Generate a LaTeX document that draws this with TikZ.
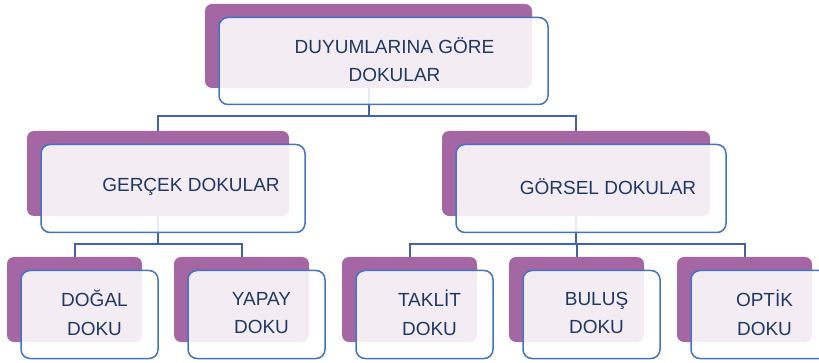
\documentclass[tikz,border=0pt]{standalone}
\usepackage{fontspec}
\setmainfont{Liberation Sans}
\usetikzlibrary{backgrounds}
\definecolor{dokupurple}{HTML}{A467A4}
\definecolor{dokublue}{HTML}{4472C4}
\definecolor{dokuline}{HTML}{3F63A6}
\definecolor{dokutext}{HTML}{203864}
\tikzset{
  back/.style  = {rectangle, rounded corners=7pt, fill=dokupurple, inner sep=0pt},
  front/.style = {rectangle, rounded corners=9pt, draw=dokublue, line width=1.5pt,
                  fill=white, fill opacity=0.88, inner sep=0pt},
  lbl/.style   = {font=\fontsize{19}{28.5}\selectfont, text=dokutext, align=center},
  link/.style  = {draw=dokuline, line width=2pt},
}
\newcommand{\dokubox}[7]{%
  \node[back, minimum width=#4pt, minimum height=#5pt] (#1) at (#2,#3) {};
  \node[front, minimum width=#4pt+2pt, minimum height=#5pt+3pt] (#1f) at (#2+15,#3+15) {};
  \node[lbl] (#1t) at ([xshift=#6pt, yshift=1.5pt]#1f.center) {#7};
}

\begin{document}
\begin{tikzpicture}[x=1pt, y=-1pt]
  \useasboundingbox (0,0) rectangle (819,363);
  \dokubox{top}{368.5}{46}{327}{84}{11}{DUYUMLARINA GÖRE\\DOKULAR}
  \dokubox{gercek}{158}{173.5}{262}{85}{18}{GERÇEK DOKULAR}
  \dokubox{gorsel}{576}{173.5}{268}{85}{17}{GÖRSEL DOKULAR}
  \dokubox{dogal}{74.5}{299.5}{135}{85}{5}{DOĞAL\\DOKU}
  \dokubox{yapay}{241.5}{299.5}{135}{85}{5}{YAPAY\\DOKU}
  \dokubox{taklit}{409.5}{299.5}{135}{85}{5}{TAKLİT\\DOKU}
  \dokubox{bulus}{576.5}{299.5}{135}{85}{5}{BULUŞ\\DOKU}
  \dokubox{optik}{744.5}{299.5}{135}{85}{5}{OPTİK\\DOKU}
  \begin{pgfonlayer}{background}
    \draw[link] (top.south) -- ++(0,28) -| (gercek.north);
    \draw[link] (top.south) -- ++(0,28) -| (gorsel.north);
    \draw[link] (gercek.south) -- ++(0,28) -| (dogal.north);
    \draw[link] (gercek.south) -- ++(0,28) -| (yapay.north);
    \draw[link] (gorsel.south) -- ++(0,28) -| (taklit.north);
    \draw[link] (gorsel.south) -- ++(0,28) -| (bulus.north);
    \draw[link] (gorsel.south) -- ++(0,28) -| (optik.north);
  \end{pgfonlayer}
\end{tikzpicture}
\end{document}
